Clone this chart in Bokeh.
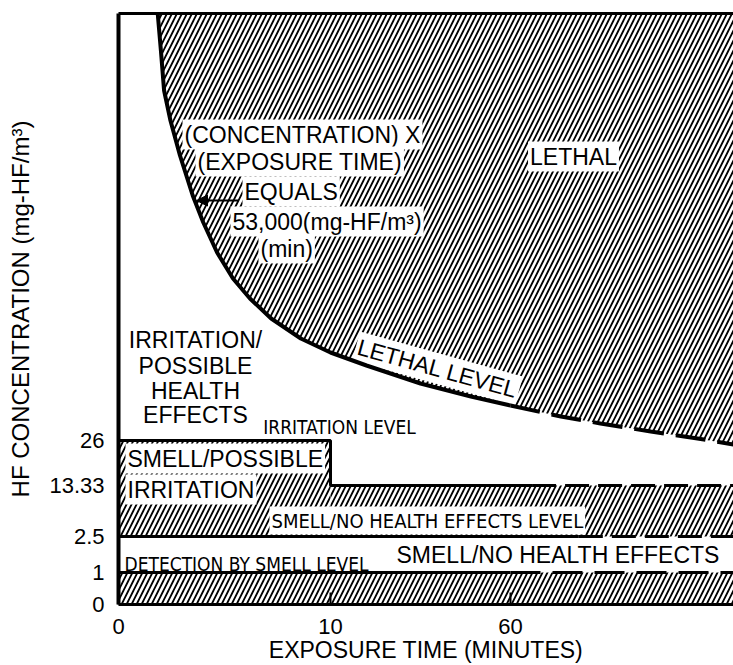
import numpy as np
from bokeh.plotting import figure
from bokeh.models import (Range1d, FixedTicker, LinearAxis, Arrow,
                          NormalHead, ColumnDataSource)
from bokeh.core.properties import value
from bokeh.embed import file_html
from bokeh.resources import INLINE

# ---------------- data ----------------
TIME_TICKS = [0, 10, 60]                      # minutes
TIME_TICK_LABELS = ["0", "10", "60"]
CONC_TICKS = [0, 1, 2.5, 13.33, 26]           # mg-HF/m3
CONC_TICK_LABELS = ["0", "1", "2.5", "13.33", "26"]

DETECTION_LEVEL = 1.0          # detection by smell level
NO_EFFECT_LEVEL = 2.5          # smell / no health effects level
IRRITATION_LOW = 13.33         # irritation level after the step
IRRITATION_HIGH = 26.0         # irritation level before the step
IRRITATION_STEP_TIME = 10      # min
END_TIME = 122                 # right edge of the drawing (min)

# time (min) where each level turns from solid to dashed
DETECTION_DASH_FROM = 60
NO_EFFECT_DASH_FROM = 79
IRRITATION_DASH_FROM = 66
LETHAL_DASH_FROM = 60

# lethal level (C x t = 53,000):
# time in minutes, height on the (unmarked above 26) concentration scale
LETHAL_TIME = [1.85, 2.0, 2.15, 2.45, 2.9, 3.5, 4.0, 4.65, 5.4, 6.2, 7.2, 8.6,
               10, 20, 35, 49, 60, 74, 85, 99, 112, 122]
LETHAL_HEIGHT = [591, 554, 514, 484, 449, 409, 382, 352, 326, 306, 286, 266,
                 252, 239, 221, 208, 199, 188, 181, 173, 166, 160]

# ---------------- schematic (broken) axes of the original ----------------
TIME_AXIS_MIN = [0, 10, 60, 122]
TIME_AXIS_AT = [0, 212, 392, 615]
CONC_AXIS_VAL = [0, 1, 2.5, 13.33, 26]
CONC_AXIS_AT = [0, 32, 68, 119, 164]
X_MAX, Y_MAX = 615, 591


def tx(t):
    return np.interp(t, TIME_AXIS_MIN, TIME_AXIS_AT).tolist()


def cy(c):
    return np.interp(c, CONC_AXIS_VAL, CONC_AXIS_AT).tolist()


FONT = "Liberation Sans"
NARROW = "DejaVu Sans Condensed, Liberation Sans"

p = figure(width=733, height=665, x_range=Range1d(0, X_MAX), y_range=Range1d(0, Y_MAX),
           min_border_left=118, min_border_right=0, min_border_top=13, min_border_bottom=61,
           output_backend="svg", toolbar_location=None)
p.grid.visible = False
p.outline_line_color = None
p.background_fill_color = "white"

HATCH = dict(fill_color="white", hatch_pattern="/", hatch_color="black",
             hatch_scale=10, hatch_weight=1.8, line_color=None)

# hatched regions
lx = tx(LETHAL_TIME)
p.patch(lx + [lx[-1]], LETHAL_HEIGHT + [Y_MAX], **HATCH)
p.quad(left=[0], right=[X_MAX], bottom=cy([0]), top=cy([DETECTION_LEVEL]), **HATCH)
p.quad(left=tx([0, IRRITATION_STEP_TIME]), right=tx([IRRITATION_STEP_TIME, END_TIME]),
       bottom=cy([NO_EFFECT_LEVEL, NO_EFFECT_LEVEL]),
       top=cy([IRRITATION_HIGH, IRRITATION_LOW]), **HATCH)


# ---------------- texts ----------------
def txt(xs, ys, texts, size, align="left", font=FONT, angle=0.0, bg=False):
    src = ColumnDataSource(dict(x=xs, y=ys, text=texts))
    kw = dict(background_fill_color="white", padding=2) if bg else {}
    p.text("x", "y", "text", source=src, text_font=value(font),
           text_font_size=f"{size}px", text_align=align, text_baseline="middle",
           angle=angle, text_color="black", **kw)


# annotation block inside the lethal area
txt([64, 77, 124, 112, 140], [470, 443, 413, 383, 356],
    ["(CONCENTRATION) X", "(EXPOSURE TIME)", "EQUALS", "53,000(mg-HF/m³)", "(min)"],
    23, bg=True)
txt([455], [448], ["LETHAL"], 23, align="center", bg=True)
txt([319], [236], ["LETHAL LEVEL"], 23, align="center", angle=-0.27, bg=True)
txt([77, 77, 77, 77], [265, 239, 214, 190],
    ["IRRITATION/", "POSSIBLE", "HEALTH", "EFFECTS"], 23, align="center")
txt([221], [178], ["IRRITATION LEVEL"], 19, align="center", font=NARROW)
txt([7, 7], [146, 115], ["SMELL/POSSIBLE", "IRRITATION"], 23, bg=True)
txt([151], [84], ["SMELL/NO HEALTH EFFECTS LEVEL"], 20, font=NARROW, bg=True)
txt([6], [41], ["DETECTION BY SMELL LEVEL"], 19, font=NARROW)
txt([278], [50], ["SMELL/NO HEALTH EFFECTS"], 23)

# ---------------- level lines ----------------
LW = 3
p.line(tx([0, IRRITATION_STEP_TIME, IRRITATION_STEP_TIME, IRRITATION_DASH_FROM]),
       cy([IRRITATION_HIGH, IRRITATION_HIGH, IRRITATION_LOW, IRRITATION_LOW]),
       line_color="black", line_width=LW)
p.line(tx([IRRITATION_DASH_FROM, END_TIME]), cy([IRRITATION_LOW] * 2),
       line_color="black", line_width=LW, line_dash="24 9")
p.line(tx([0, NO_EFFECT_DASH_FROM]), cy([NO_EFFECT_LEVEL] * 2), line_color="black", line_width=LW)
p.line(tx([NO_EFFECT_DASH_FROM, END_TIME]), cy([NO_EFFECT_LEVEL] * 2),
       line_color="black", line_width=LW, line_dash="24 9")
p.line(tx([0, DETECTION_DASH_FROM]), cy([DETECTION_LEVEL] * 2), line_color="black", line_width=LW)
p.line(tx([DETECTION_DASH_FROM, END_TIME]), cy([DETECTION_LEVEL] * 2),
       line_color="black", line_width=LW, line_dash="30 12")

solid = [i for i, t in enumerate(LETHAL_TIME) if t <= LETHAL_DASH_FROM]
dash = [i for i, t in enumerate(LETHAL_TIME) if t >= LETHAL_DASH_FROM]
p.line([lx[i] for i in solid], [LETHAL_HEIGHT[i] for i in solid], line_color="black", line_width=4)
p.line([lx[i] for i in dash], [LETHAL_HEIGHT[i] for i in dash], line_color="black",
       line_width=4, line_dash="30 12")

p.add_layout(Arrow(end=NormalHead(size=11, fill_color="black", line_color="black"),
                   x_start=120, y_start=404, x_end=78, y_end=404,
                   line_color="black", line_width=2))

# ---------------- axes ----------------
xt = [int(round(v)) for v in tx(TIME_TICKS)]
yt = [int(round(v)) for v in cy(CONC_TICKS)]

p.xaxis.ticker = FixedTicker(ticks=xt)
p.xaxis.major_label_overrides = {k: s for k, s in zip(xt, TIME_TICK_LABELS)}
p.xaxis.major_tick_in = 12
p.xaxis.major_tick_out = 0
p.xaxis.major_tick_line_width = 2
p.xaxis.major_label_standoff = 14
p.xaxis.axis_line_width = 3
p.xaxis.axis_label = "EXPOSURE TIME (MINUTES)"
p.xaxis.axis_label_standoff = 0

p.yaxis.ticker = FixedTicker(ticks=yt)
p.yaxis.major_label_overrides = {k: s for k, s in zip(yt, CONC_TICK_LABELS)}
p.yaxis.major_tick_in = 0
p.yaxis.major_tick_out = 0
p.yaxis.major_tick_line_color = None
p.yaxis.major_label_standoff = 14
p.yaxis.axis_line_width = 4
p.yaxis.axis_label = "HF CONCENTRATION (mg-HF/m³)"
p.yaxis.axis_label_standoff = 12

for ax in (p.xaxis[0], p.yaxis[0]):
    ax.major_label_text_font = FONT
    ax.major_label_text_font_size = "22px"
    ax.major_label_text_color = "black"
    ax.axis_label_text_font = FONT
    ax.axis_label_text_font_size = "23px"
    ax.axis_label_text_font_style = "normal"
    ax.axis_label_text_color = "black"
    ax.minor_tick_line_color = None
p.yaxis.axis_label_text_font_size = "24px"

top = LinearAxis(ticker=FixedTicker(ticks=[]), axis_line_width=3, major_tick_out=0,
                 major_tick_in=0, major_label_standoff=0, major_label_text_font_size="0px",
                 minor_tick_line_color=None)
p.add_layout(top, "above")

open("out.html", "w").write(file_html(p, INLINE))
